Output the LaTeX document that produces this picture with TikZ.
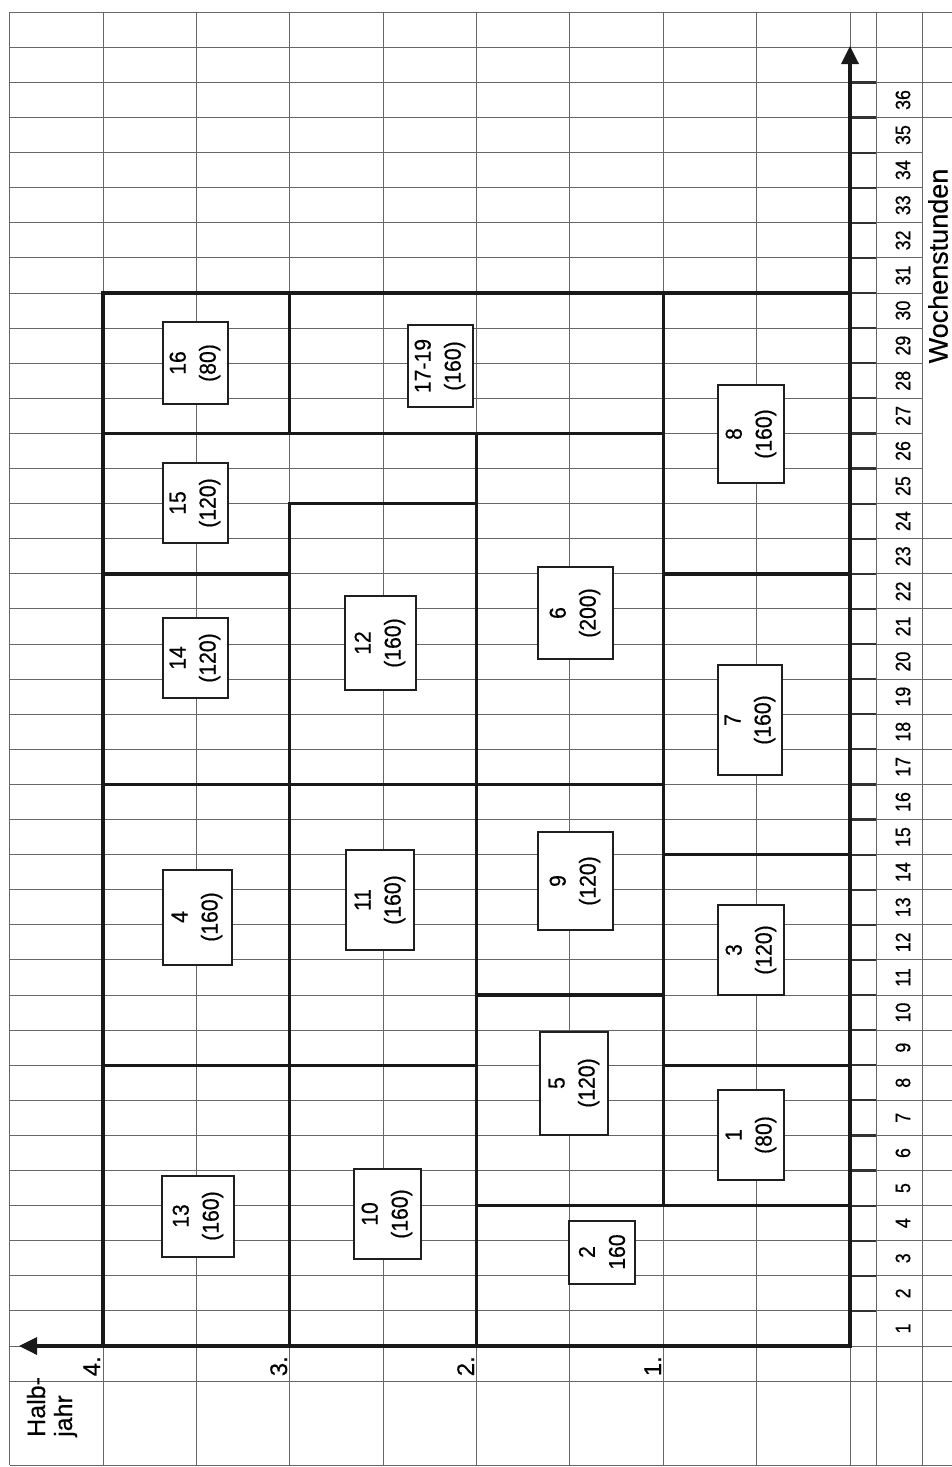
\documentclass[tikz,border=0pt]{standalone}
\usepackage{fontspec}
\setmainfont{Liberation Sans}
\newfontfamily\nfont[FakeStretch=0.92,FakeBold=0.5]{Liberation Sans}
\newfontfamily\mfont[FakeStretch=0.85,FakeBold=0.5]{Liberation Sans}
\newfontfamily\wfont[FakeBold=0.4]{Liberation Sans}
\usetikzlibrary{arrows.meta}
\newcommand\KX[1]{850-186.75*(#1)}
\newcommand\HY[1]{1346-35.1*(#1)}
\begin{document}
\begin{tikzpicture}[x=1pt,y=-1pt,
  gridline/.style={line width=1pt,draw=black!60},
  tickline/.style={line width=2.2pt,draw=black!80},
  thickline/.style={line width=3.4pt,draw=black!90,line cap=rect},
  axisline/.style={line width=3.4pt,draw=black!90,-{Triangle[length=18pt,width=17pt]}},
  bx/.style={draw=black!88,line width=2pt,fill=white,rotate=90,align=center,inner sep=0pt,
    font=\nfont\fontsize{23}{30}\selectfont},
  numlab/.style={rotate=90,inner sep=0pt,font=\mfont\fontsize{21}{24}\selectfont},
  hylab/.style={rotate=90,inner sep=0pt,anchor=base east,font=\wfont\fontsize{24}{26}\selectfont},
  axlab/.style={rotate=90,inner sep=0pt,font=\wfont\fontsize{27}{30}\selectfont},
  hjlab/.style={rotate=90,inner sep=0pt,anchor=base west,font=\wfont\fontsize{25}{27}\selectfont}]
\useasboundingbox (0,0) rectangle (952,1467);
\fill[white] (0,0) rectangle (952,1467);
% fine grid
\foreach \j in {0,...,9}{\draw[gridline] ({850-93.375*\j},12) -- ({850-93.375*\j},1465);}
\draw[gridline] (876,12) -- (876,1465);
\draw[gridline] (922,12) -- (922,1465);
\foreach \h in {-1,...,38}{\draw[gridline] (9.6,{\HY{\h}}) -- (922,{\HY{\h}});}
\foreach \h in {-1,...,24,35,36,37,38}{\draw[gridline] (922,{\HY{\h}}) -- (952,{\HY{\h}});}
\draw[gridline] (9.6,1465) -- (952,1465);
% ticks
\foreach \h in {1,...,36}{\draw[tickline] (850,{\HY{\h}}) -- (876,{\HY{\h}});}
% axes
\coordinate (O) at (850,1346);
\coordinate (Htip) at (850,46);
\coordinate (Ktip) at (19,1346);
\draw[axisline] (O) -- (Htip);
\draw[axisline] (O) -- (Ktip);
% outer frame of the plan
\draw[thickline] ({\KX{0}},{\HY{0}}) rectangle ({\KX{4}},{\HY{30}});
% half-year boundaries
\draw[thickline] ({\KX{1}},{\HY{4}}) -- ({\KX{1}},{\HY{30}});
\draw[thickline] ({\KX{2}},{\HY{0}}) -- ({\KX{2}},{\HY{26}});
\draw[thickline] ({\KX{3}},{\HY{0}}) -- ({\KX{3}},{\HY{24}});
\draw[thickline] ({\KX{3}},{\HY{26}}) -- ({\KX{3}},{\HY{30}});
% hour boundaries
\draw[thickline] ({\KX{0}},{\HY{4}}) -- ({\KX{2}},{\HY{4}});
\draw[thickline] ({\KX{0}},{\HY{8}}) -- ({\KX{1}},{\HY{8}});
\draw[thickline] ({\KX{2}},{\HY{8}}) -- ({\KX{4}},{\HY{8}});
\draw[thickline] ({\KX{1}},{\HY{10}}) -- ({\KX{2}},{\HY{10}});
\draw[thickline] ({\KX{0}},{\HY{14}}) -- ({\KX{1}},{\HY{14}});
\draw[thickline] ({\KX{1}},{\HY{16}}) -- ({\KX{4}},{\HY{16}});
\draw[thickline] ({\KX{0}},{\HY{22}}) -- ({\KX{1}},{\HY{22}});
\draw[thickline] ({\KX{3}},{\HY{22}}) -- ({\KX{4}},{\HY{22}});
\draw[thickline] ({\KX{2}},{\HY{24}}) -- ({\KX{3}},{\HY{24}});
\draw[thickline] ({\KX{1}},{\HY{26}}) -- ({\KX{4}},{\HY{26}});
% axis numbers
\foreach \h in {1,...,36}{\node[numlab] (n\h) at (903,{\HY{\h-0.5}}) {\h};}
\node[axlab] (wst) at (938,266) {Wochenstunden};
% half-year labels
\node[hylab] (hy4) at (100,1356) {4.};
\node[hylab] (hy3) at (287,1356) {3.};
\node[hylab] (hy2) at (474,1356) {2.};
\node[hylab] (hy1) at (661,1356) {1.};
\node[hjlab] (hja) at (45,1437) {Halb-};
\node[hjlab] (hjb) at (72,1437) {jahr};
% course boxes
\node[bx,minimum width=82pt,minimum height=65pt] (b16) at (195,363) {16\\(80)};
\node[bx,minimum width=82pt,minimum height=65pt] (b1719) at (440,366) {17-19\\(160)};
\node[bx,minimum width=80pt,minimum height=65pt] (b15) at (195,503) {15\\(120)};
\node[bx,minimum width=80pt,minimum height=65pt] (b14) at (195,658) {14\\(120)};
\node[bx,minimum width=95pt,minimum height=69pt] (b4) at (197,917) {4\\(160)};
\node[bx,minimum width=81pt,minimum height=72pt] (b13) at (198,1216) {13\\(160)};
\node[bx,minimum width=94pt,minimum height=71pt] (b12) at (380,643) {12\\(160)};
\node[bx,minimum width=100pt,minimum height=68pt] (b11) at (380,900) {11\\(160)};
\node[bx,minimum width=90pt,minimum height=67pt] (b10) at (387,1214) {10\\(160)};
\node[bx,minimum width=92pt,minimum height=75pt] (b6) at (575,613) {6\\(200)};
\node[bx,minimum width=98pt,minimum height=75pt] (b9) at (575,881) {9\\(120)};
\node[bx,minimum width=103pt,minimum height=68pt] (b5) at (574,1083) {5\\(120)};
\node[bx,minimum width=63pt,minimum height=66pt] (b2) at (602,1252) {2\\160};
\node[bx,minimum width=98pt,minimum height=66pt] (b8) at (751,434) {8\\(160)};
\node[bx,minimum width=110pt,minimum height=64pt] (b7) at (750,720) {7\\(160)};
\node[bx,minimum width=90pt,minimum height=66pt] (b3) at (751,950) {3\\(120)};
\node[bx,minimum width=90pt,minimum height=66pt] (b1) at (751,1135) {1\\(80)};
\end{tikzpicture}
\end{document}
